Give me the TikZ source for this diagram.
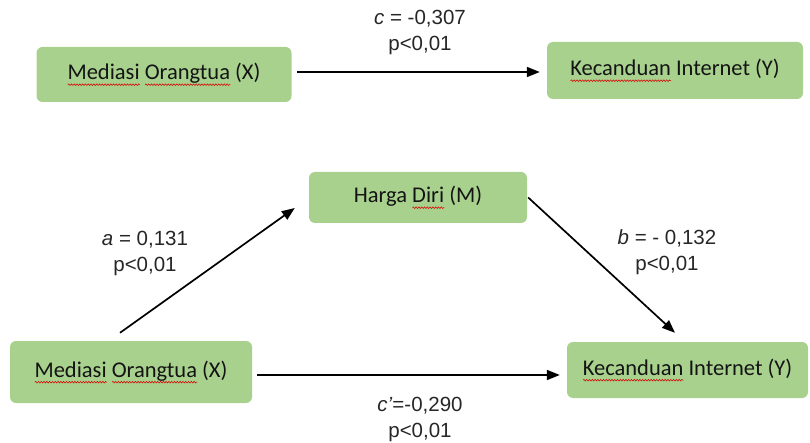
\documentclass[tikz,border=0pt]{standalone}
\usepackage{fontspec}
\setmainfont{Carlito}
\newfontfamily\arial{Liberation Sans}
\usetikzlibrary{arrows.meta,decorations.pathmorphing}
\newsavebox\wavebox
\newcommand\redwave[1]{\sbox\wavebox{#1}\rlap{\tikz[baseline=0pt]\draw[red!85!black, line width=0.55pt, sharp corners, decorate, decoration={snake, amplitude=0.8pt, segment length=2.8pt}] (0pt,-5pt) -- (\wd\wavebox,-5pt);}\usebox\wavebox}
\definecolor{boxgreen}{HTML}{A9D18E}
\definecolor{txtdark}{HTML}{141414}
\tikzset{
  varbox/.style={fill=boxgreen, rounded corners=6pt, inner sep=0pt,
    font=\fontsize{22.5}{26}\selectfont, text=txtdark},
  arr/.style={-{Triangle[length=13pt,width=10pt]}, line width=1.7pt, black},
  coef/.style={font=\arial\fontsize{20.5}{26}\selectfont, align=center, text=black!85, inner sep=0pt}
}
\begin{document}
\begin{tikzpicture}[x=1pt,y=-1pt]
\useasboundingbox (0,0) rectangle (810,443);
% top model
\node[varbox, minimum width=255pt, minimum height=55pt] (tx) at (164,74.5) {\redwave{Mediasi} \redwave{Orangtua} (X)};
\node[varbox, minimum width=256pt, minimum height=57pt] (ty) at (675,70.5) {\redwave{Kecanduan} Internet (Y)};
\draw[arr, shorten <=5.5pt, shorten >=7pt] ([yshift=2.5pt]tx.east) -- ([yshift=2.5pt]tx.east -| ty.west);
\node[coef] (lc) at (420,32.5) {\textit{c} = -0,307\\p<0,01};
% mediation model
\node[varbox, minimum width=218pt, minimum height=51pt] (m) at (418,197.5) {Harga \redwave{Diri} (M)};
\node[varbox, minimum width=242pt, minimum height=62pt] (bx) at (131,372) {\redwave{Mediasi} \redwave{Orangtua} (X)};
\node[varbox, minimum width=241pt, minimum height=56pt] (by) at (687.5,370) {\redwave{Kecanduan} Internet (Y)};
\draw[arr] ([xshift=-11pt,yshift=8pt]bx.north) -- ([xshift=-14pt,yshift=-10.5pt]m.west);
\draw[arr] ([xshift=1pt]m.east) -- ([xshift=-12.5pt,yshift=9pt]by.north);
\draw[arr, shorten <=5pt, shorten >=7pt] ([yshift=-3pt]bx.east) -- ([yshift=-3pt]bx.east -| by.west);
\node[coef] (la) at (145,253) {\textit{a} = 0,131\\p<0,01};
\node[coef] (lb) at (667,252) {\textit{b} = - 0,132\\p<0,01};
\node[coef] (lcp) at (420,419) {\textit{c’}=-0,290\\p<0,01};
\end{tikzpicture}
\end{document}
